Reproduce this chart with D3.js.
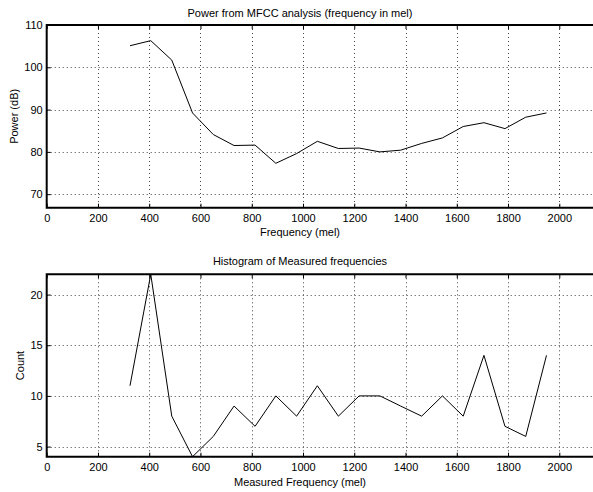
<!DOCTYPE html>
<html>
<head>
<meta charset="utf-8">
<script src="https://cdn.jsdelivr.net/npm/d3@7"></script>
<style>
  html, body { margin: 0; padding: 0; background: #fff; }
  svg { display: block; }
  text { font-family: "Liberation Sans", Arial, Helvetica, sans-serif; font-size: 11px; fill: #000; }
</style>
</head>
<body>
<svg id="chart" width="593" height="492"></svg>
<script>
// ---- data ----
const melFrequencies = [325, 406, 488, 569, 650, 731, 813, 894, 975, 1056, 1138,
                        1219, 1300, 1381, 1463, 1544, 1625, 1706, 1788, 1869, 1950];
const powerDb = [105.1, 106.3, 101.7, 89.2, 84.1, 81.5, 81.6, 77.3, 79.6, 82.5, 80.8,
                 80.9, 80.0, 80.4, 82.0, 83.3, 86.0, 86.9, 85.5, 88.2, 89.2];
const histCounts = [11, 22, 8, 4, 6, 9, 7, 10, 8, 11, 8, 10, 10, 9, 8, 10, 8, 14, 7, 6, 14];
const xTicks = [0, 200, 400, 600, 800, 1000, 1200, 1400, 1600, 1800, 2000];
const powerTicks = [70, 80, 90, 100, 110];
const countTicks = [5, 10, 15, 20];
const titles = ["Power from MFCC analysis (frequency in mel)", "Histogram of Measured frequencies"];
const xLabels = ["Frequency (mel)", "Measured Frequency (mel)"];
const yLabels = ["Power (dB)", "Count"];

// ---- layout ----
const svg = d3.select("#chart");
const left = 46.7;
const x = d3.scaleLinear().domain([0, 2200]).range([left, left + 11 * 51.26]);

const panels = [
  { values: powerDb, ticks: powerTicks, y: d3.scaleLinear().domain([66.8, 110]).range([207.7, 25]),
    title: titles[0], titleY: 16.7, xlabel: xLabels[0], xlabelY: 236, ylabel: yLabels[0], ylabelX: 17.5 },
  { values: histCounts, ticks: countTicks, y: d3.scaleLinear().domain([4, 22]).range([456.7, 274.3]),
    title: titles[1], titleY: 265, xlabel: xLabels[1], xlabelY: 486, ylabel: yLabels[1], ylabelX: 24 }
];

panels.forEach(p => {
  const g = svg.append("g");
  const [y0, y1] = p.y.range(); // bottom, top
  const xr = x.range();

  // grid
  const grid = g.append("g").attr("stroke", "#444").attr("stroke-width", 1)
    .attr("stroke-dasharray", "1,3").attr("fill", "none");
  grid.selectAll("line.v").data(xTicks.filter(d => d > 0)).join("line")
    .attr("x1", d => Math.round(x(d)) + 0.5).attr("x2", d => Math.round(x(d)) + 0.5)
    .attr("y1", y1).attr("y2", y0);
  grid.selectAll("line.h").data(p.ticks).join("line")
    .attr("x1", xr[0]).attr("x2", xr[1])
    .attr("y1", d => Math.round(p.y(d)) + 0.5).attr("y2", d => Math.round(p.y(d)) + 0.5);

  // axes with inward ticks
  const xb = g.append("g").attr("transform", `translate(0,${y0})`)
    .call(d3.axisBottom(x).tickValues(xTicks).tickSize(-4).tickPadding(7).tickFormat(d3.format("d")));
  const xt = g.append("g").attr("transform", `translate(0,${y1})`)
    .call(d3.axisTop(x).tickValues(xTicks).tickSize(-4).tickFormat(""));
  const yl = g.append("g").attr("transform", `translate(${left},0)`)
    .call(d3.axisLeft(p.y).tickValues(p.ticks).tickSize(-4).tickPadding(4).tickFormat(d3.format("d")));
  [xb, xt, yl].forEach(a => {
    a.select(".domain").remove();
    a.selectAll("text").attr("font-family", null).attr("font-size", null).style("fill", "#000");
    a.selectAll("line").attr("stroke", "#000");
  });

  // frame (left, top, bottom)
  g.append("path")
    .attr("d", `M${xr[1]},${y1}H${left}V${y0}H${xr[1]}`)
    .attr("fill", "none").attr("stroke", "#000").attr("stroke-width", 2);

  // data line
  const line = d3.line().x((d, i) => x(melFrequencies[i])).y(d => p.y(d));
  g.append("path").datum(p.values).attr("d", line)
    .attr("fill", "none").attr("stroke", "#000").attr("stroke-width", 1);

  // texts
  g.append("text").attr("x", 300).attr("y", p.titleY).attr("text-anchor", "middle").text(p.title);
  g.append("text").attr("x", 300).attr("y", p.xlabelY).attr("text-anchor", "middle").text(p.xlabel);
  g.append("text").attr("transform", `translate(${p.ylabelX},${(y0 + y1) / 2}) rotate(-90)`)
    .attr("text-anchor", "middle").text(p.ylabel);
});
</script>
</body>
</html>
